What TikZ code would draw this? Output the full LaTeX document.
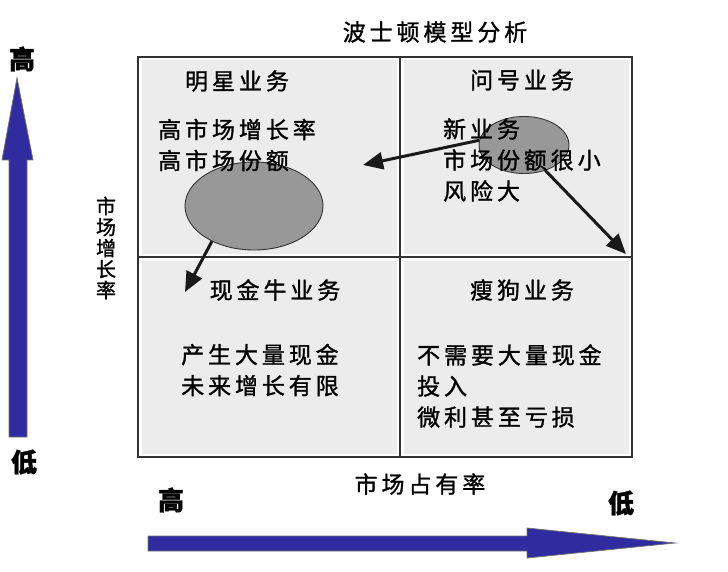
\documentclass[tikz,border=0pt]{standalone}
\usepackage{fontspec}
\newfontfamily\cjk{Noto Sans CJK SC}[LetterSpace=17,FakeBold=1.2]
\newfontfamily\cjkplain{Noto Sans CJK SC}[FakeBold=1.2]
\usetikzlibrary{shapes.geometric,arrows.meta}
\definecolor{axisblue}{RGB}{48,44,160}
\definecolor{quadgray}{RGB}{236,236,236}
\definecolor{blobgray}{RGB}{152,152,152}
\begin{document}
\begin{tikzpicture}[x=1pt, y=-1pt,
  txt/.style={font=\cjk\fontsize{23}{31}\selectfont, inner sep=0pt},
  body/.style={txt, align=left, anchor=west},
  hilo/.style={font=\cjkplain\bfseries\fontsize{26}{26}\selectfont, inner sep=0pt},
  frame/.style={draw=black!80, line width=1.8pt},
  blob/.style={ellipse, draw=black!80, line width=0.9pt, fill=blobgray, inner sep=0pt},
  link/.style={-{Triangle[length=20pt,width=17pt]}, line width=3pt, black!90},
  bigarrow/.style={fill=axisblue, draw=black!55, line width=0.8pt}]
\useasboundingbox (0,0) rectangle (728,572);
% matrix
\fill[quadgray] (138,57) rectangle (632,457);
\draw[white, line width=7pt] (138,57) rectangle (632,457) (400,57) -- (400,457) (138,257) -- (632,257);
\draw[frame] (138,57) rectangle (632,457);
\draw[frame] (400,57) -- (400,457);
\draw[frame] (138,257) -- (632,257);
% business circles
\node[blob, minimum width=138pt, minimum height=88pt] (star) at (254,206) {};
\node[blob, minimum width=90pt, minimum height=57pt] (qmark) at (524,145) {};
% texts
\node[txt] (title) at (435,32) {波士顿模型分析};
\node[txt] (starname) at (237,81) {明星业务};
\node[body] (startext) at (158,145) {高市场增长率\\高市场份额};
\node[txt] (qname) at (522,80) {问号业务};
\node[body] (qtext) at (443,160) {新业务\\市场份额很小\\风险大};
\node[txt] (cowname) at (275,290) {现金牛业务};
\node[body] (cowtext) at (181,370) {产生大量现金\\未来增长有限};
\node[txt] (dogname) at (522,290) {瘦狗业务};
\node[body] (dogtext) at (417,386) {不需要大量现金\\投入\\微利甚至亏损};
% moves
\coordinate (tostar) at (363,165);
\coordinate (todog) at (626,254);
\coordinate (tocow) at (185,292);
\draw[link] (qmark.174) -- (tostar);
\draw[link] (qmark.-50) -- (todog);
\draw[link] (star.-140) -- (tocow);
% axes
\fill[bigarrow] (9,437) -- (9,160) -- (2,160) -- (17,78) -- (33,160) -- (27,160) -- (27,437) -- cycle;
\fill[bigarrow] (148,536) -- (527,536) -- (527,528) -- (675,543) -- (527,558) -- (527,551) -- (148,551) -- cycle;
\node[hilo] (yhigh) at (22,59) {高};
\node[hilo] (ylow) at (24,462) {低};
\node[hilo] (xhigh) at (171,500) {高};
\node[hilo] (xlow) at (621,503) {低};
\node[font=\cjkplain\fontsize{20}{21}\selectfont, align=center, inner sep=0pt] (ylabel) at (106,248) {市\\场\\增\\长\\率};
\node[txt] (xlabel) at (420,484) {市场占有率};
\end{tikzpicture}
\end{document}
